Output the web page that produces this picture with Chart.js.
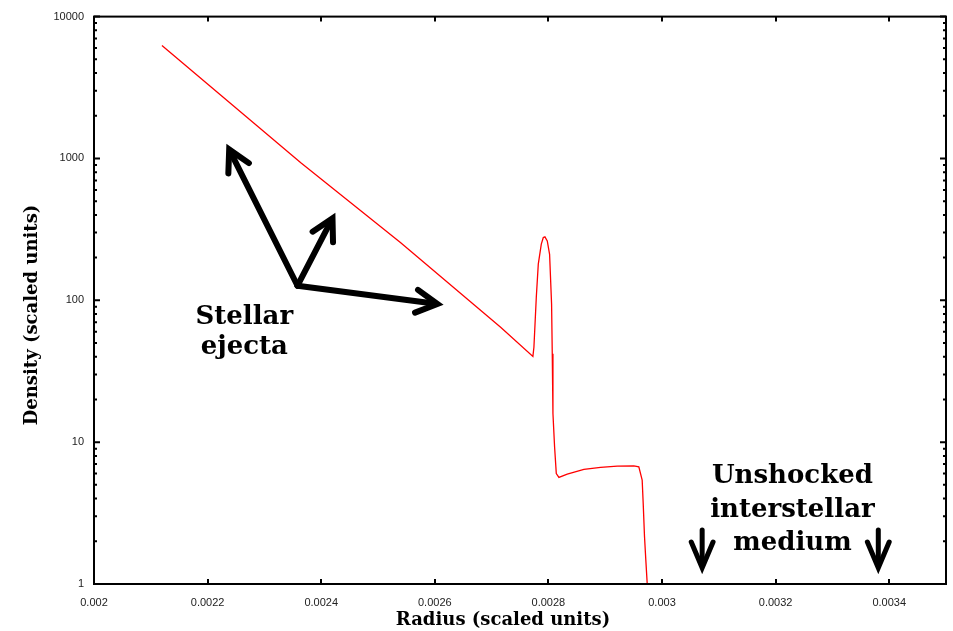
<!DOCTYPE html>
<html>
<head>
<meta charset="utf-8">
<script src="https://cdn.jsdelivr.net/npm/chart.js@4"></script>
<style>
  html, body { margin: 0; padding: 0; background: #fff; }
  #wrap { width: 953px; height: 631px; position: relative; }
</style>
</head>
<body>
<div id="wrap"><canvas id="c"></canvas></div>
<script>
// ---- data ----
const radius = [0.0021196, 0.0023641, 0.0025400, 0.0027159, 0.0027727, 0.0027745, 0.0027787, 0.0027822, 0.0027875,
  0.0027910, 0.0027939, 0.0027980, 0.0028021, 0.0028056, 0.0028068, 0.0028080, 0.0028109, 0.0028139, 0.0028185,
  0.0028332, 0.0028625, 0.0028918, 0.0029212, 0.0029504, 0.0029592, 0.0029651, 0.0029669, 0.0029692, 0.0029715, 0.0029740];
const density = [6250, 931, 255, 64.5, 40.2, 46.7, 105, 180, 249,
  277, 280, 262, 211, 94, 42, 15.9, 9.25, 6.0, 5.64,
  5.95, 6.42, 6.63, 6.78, 6.81, 6.7, 5.4, 3.7, 2.16, 1.48, 1.0];

const xTicks = [0.002, 0.0022, 0.0024, 0.0026, 0.0028, 0.003, 0.0032, 0.0034];
const xTickLabels = ['0.002', '0.0022', '0.0024', '0.0026', '0.0028', '0.003', '0.0032', '0.0034'];
const yTicks = [1, 10, 100, 1000, 10000];
const yTickLabels = ['1', '10', '100', '1000', '10000'];

const xTitle = 'Radius (scaled units)';
const yTitle = 'Density (scaled units)';

// annotations (data coordinates)
const ejectaArrowFrom = [0.0023583, 126.7];
const ejectaArrowTips = [[0.0022380, 1157], [0.0024199, 378.8], [0.0026046, 94.2]];
const ejectaLabel = ['Stellar', 'ejecta'];
const ejectaLabelAt = [0.0022647, 68.5];
const ismArrowsX = [0.0030707, 0.0033808];
const ismArrowTop = 2.40;
const ismArrowBottom = 1.30;
const ismLabel = ['Unshocked', 'interstellar', 'medium'];
const ismLabelAt = [0.0032296, 5.14];

const points = radius.map((r, i) => ({ x: r, y: density[i] }));

function arrow(ctx, x1, y1, x2, y2, head, half, lw) {
  const a = Math.atan2(y2 - y1, x2 - x1);
  ctx.save();
  ctx.strokeStyle = '#000';
  ctx.lineWidth = lw;
  ctx.lineCap = 'round';
  ctx.lineJoin = 'miter';
  ctx.beginPath();
  ctx.moveTo(x1, y1);
  ctx.lineTo(x2 - Math.cos(a) * lw * 0.6, y2 - Math.sin(a) * lw * 0.6);
  ctx.stroke();
  ctx.beginPath();
  ctx.moveTo(x2 - head * Math.cos(a - half), y2 - head * Math.sin(a - half));
  ctx.lineTo(x2, y2);
  ctx.lineTo(x2 - head * Math.cos(a + half), y2 - head * Math.sin(a + half));
  ctx.stroke();
  ctx.restore();
}

const decor = {
  id: 'decor',
  afterDraw(chart) {
    const ctx = chart.ctx;
    const xs = chart.scales.x, ys = chart.scales.y;
    const ca = chart.chartArea;
    ctx.save();
    // frame
    ctx.strokeStyle = '#000';
    ctx.lineWidth = 2;
    ctx.strokeRect(ca.left, ca.top, ca.right - ca.left, ca.bottom - ca.top);
    // x ticks (bottom & top, inward)
    ctx.beginPath();
    xTicks.forEach(v => {
      const px = Math.round(xs.getPixelForValue(v));
      if (v > xs.min + 1e-9) {
        ctx.moveTo(px, ca.bottom); ctx.lineTo(px, ca.bottom - 5);
        ctx.moveTo(px, ca.top); ctx.lineTo(px, ca.top + 5);
      }
    });
    ctx.stroke();
    // y ticks major + minor (left & right, inward)
    ctx.beginPath();
    for (let d = 0; d < yTicks.length; d++) {
      const base = yTicks[d];
      for (let m = 1; m <= 9; m++) {
        const v = base * m;
        if (v > ys.max + 1e-9) break;
        const py = ys.getPixelForValue(v);
        const len = m === 1 ? 6 : 3;
        ctx.moveTo(ca.left, py); ctx.lineTo(ca.left + len, py);
        ctx.moveTo(ca.right, py); ctx.lineTo(ca.right - len, py);
      }
    }
    ctx.stroke();
    // axis titles
    ctx.fillStyle = '#000';
    ctx.font = 'bold 18px "DejaVu Serif"';
    ctx.textAlign = 'center';
    ctx.textBaseline = 'alphabetic';
    ctx.fillText(xTitle, 503, 625);
    ctx.save();
    ctx.translate(37, 315);
    ctx.rotate(-Math.PI / 2);
    ctx.fillText(yTitle, 0, 0);
    ctx.restore();

    // annotations
    const ox = xs.getPixelForValue(ejectaArrowFrom[0]);
    const oy = ys.getPixelForValue(ejectaArrowFrom[1]);
    ejectaArrowTips.forEach(t => {
      arrow(ctx, ox, oy, xs.getPixelForValue(t[0]), ys.getPixelForValue(t[1]), 24, 0.5, 6);
    });
    ismArrowsX.forEach(x => {
      const px = xs.getPixelForValue(x);
      arrow(ctx, px, ys.getPixelForValue(ismArrowTop), px, ys.getPixelForValue(ismArrowBottom), 28, 0.4, 5);
    });
    ctx.font = 'bold 26px "DejaVu Serif"';
    ctx.textAlign = 'center';
    const ex = xs.getPixelForValue(ejectaLabelAt[0]);
    const ey = ys.getPixelForValue(ejectaLabelAt[1]);
    ejectaLabel.forEach((s, i) => ctx.fillText(s, ex, ey + i * 30));
    const ix = xs.getPixelForValue(ismLabelAt[0]);
    const iy = ys.getPixelForValue(ismLabelAt[1]);
    ismLabel.forEach((s, i) => ctx.fillText(s, ix, iy + i * 33.5));
    ctx.restore();
  }
};

new Chart(document.getElementById('c'), {
  type: 'line',
  data: {
    datasets: [{
      data: points,
      borderColor: '#ff0000',
      borderWidth: 1.3,
      pointRadius: 0,
      tension: 0,
      fill: false
    }]
  },
  options: {
    responsive: true,
    maintainAspectRatio: false,
    animation: false,
    layout: { padding: { top: 15, right: 7, left: 0, bottom: 0 } },
    plugins: { legend: { display: false }, tooltip: { enabled: false } },
    scales: {
      x: {
        type: 'linear',
        min: 0.002,
        max: 0.0035,
        afterBuildTicks: s => { s.ticks = xTicks.map(v => ({ value: v })); },
        afterFit: s => { s.height = 47; },
        grid: { display: false, drawTicks: false },
        border: { display: false },
        ticks: {
          autoSkip: false,
          maxRotation: 0,
          padding: 12,
          color: '#222',
          font: { family: '"Liberation Sans", Arial, sans-serif', size: 11 },
          callback: (v, i) => xTickLabels[i]
        }
      },
      y: {
        type: 'logarithmic',
        min: 1,
        max: 10000,
        afterBuildTicks: s => { s.ticks = yTicks.map(v => ({ value: v, major: true })); },
        afterFit: s => { s.width = 94; },
        grid: { display: false, drawTicks: false },
        border: { display: false },
        ticks: {
          autoSkip: false,
          padding: 10,
          color: '#222',
          font: { family: '"Liberation Sans", Arial, sans-serif', size: 11 },
          callback: (v, i) => yTickLabels[i]
        }
      }
    }
  },
  plugins: [decor]
});
</script>
</body>
</html>
